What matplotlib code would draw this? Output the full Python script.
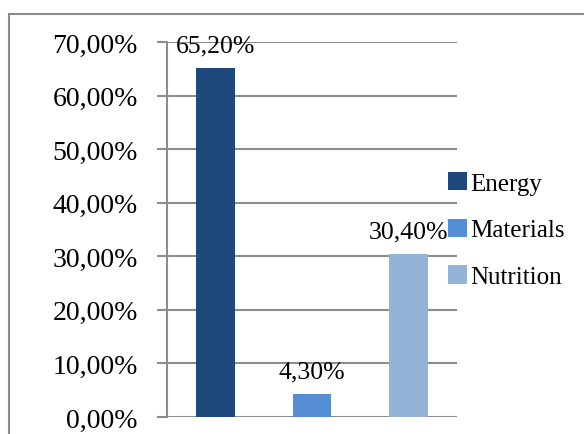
import matplotlib
matplotlib.use('Agg')
import matplotlib.pyplot as plt
from matplotlib.patches import Rectangle, Patch
from matplotlib.ticker import FuncFormatter

# data
categories = ['Energy', 'Materials', 'Nutrition']
shares = [65.20, 4.30, 30.40]  # percent
colors = ['#1F497D', '#558ED5', '#95B3D7']
y_ticks = [0, 10, 20, 30, 40, 50, 60, 70]

plt.rcParams['font.family'] = ['Liberation Serif', 'DejaVu Serif']

W, H = 584, 435
fig = plt.figure(figsize=(W / 100, H / 100), dpi=100)

# outer chart frame (only top and left visible in the reference)
fig.patches.append(Rectangle((9 / W, -0.1), 1.2, 1 - 15 / H + 0.1, transform=fig.transFigure,
                             fill=False, edgecolor='#8C8C8C', linewidth=1.5))

ax = fig.add_axes([167 / W, 1 - 418 / H, 290 / W, 375 / H])
x = list(range(len(categories)))
ax.bar(x, shares, width=0.4, color=colors, zorder=3)

ax.set_xlim(-0.5, len(categories) - 0.5)
ax.set_ylim(0, 70)
ax.set_yticks(y_ticks)
ax.yaxis.set_major_formatter(FuncFormatter(lambda v, p: ('%.2f%%' % v).replace('.', ',')))
ax.set_xticks([])
ax.yaxis.grid(True, color='#8C8C8C', linewidth=1.5, zorder=0)
for s in ['top', 'right', 'bottom']:
    ax.spines[s].set_visible(False)
ax.spines['left'].set_color('#8C8C8C')
ax.spines['left'].set_linewidth(1.5)
ax.tick_params(axis='y', length=7, width=1.5, color='#8C8C8C', labelsize=20, pad=14)

for xi, v in zip(x, shares):
    ax.annotate(('%.2f%%' % v).replace('.', ','), (xi, v), xytext=(0, 12), textcoords='offset points',
                ha='center', va='baseline', fontsize=18.5, zorder=5, annotation_clip=False)

handles = [Patch(facecolor=c, edgecolor='none') for c in colors]
fig.legend(handles, categories, loc='center left', bbox_to_anchor=(448 / W, 1 - 231 / H),
           frameon=False, fontsize=18, handlelength=0.75, handleheight=0.75,
           handletextpad=0.12, labelspacing=0.95, borderaxespad=0, borderpad=0)

fig.savefig('out.png', dpi=100)
